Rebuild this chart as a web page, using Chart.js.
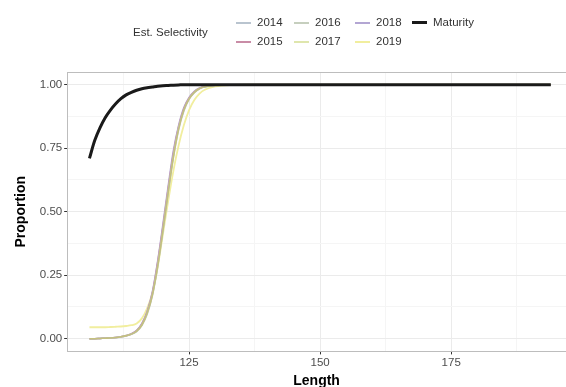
<!DOCTYPE html>
<html>
<head>
<meta charset="utf-8">
<script src="https://cdn.jsdelivr.net/npm/chart.js@4"></script>
<style>
  body { margin: 0; background: #fff; font-family: "Liberation Sans", Arial, sans-serif; }
  #wrap { position: relative; width: 566px; height: 387px; overflow: hidden; }
  #legend { position: absolute; left: 0; top: 0; width: 566px; height: 60px; color: #333; font-size: 11.5px; }
  #legend .title { position: absolute; left: 133px; top: 26px; }
  #legend .item { position: absolute; height: 14px; line-height: 14px; }
  #legend .key { display: inline-block; width: 15px; height: 2px; vertical-align: middle; margin-right: 6px; }
</style>
</head>
<body>
<div id="wrap">
  <canvas id="chart" width="566" height="390"></canvas>
  <div id="legend"><span class="title">Est. Selectivity</span></div>
</div>
<script>
// Eje x: longitud
const lengths = [106, 107, 108, 109, 110, 111, 112, 113, 114, 115, 116, 117, 118, 119, 120,
                 121, 122, 123, 124, 125, 126, 127, 128, 130, 133, 136, 140, 150, 160, 170, 180, 194];

// Selectividad estimada por año
const sel2014 = [0, 0, 0.001, 0.002, 0.003, 0.005, 0.008, 0.012, 0.018, 0.03, 0.055, 0.1, 0.175, 0.29, 0.43,
                 0.58, 0.72, 0.83, 0.9, 0.945, 0.97, 0.985, 0.992, 0.998, 1, 1, 1, 1, 1, 1, 1, 1];
const sel2015 = [0, 0, 0.001, 0.002, 0.003, 0.005, 0.008, 0.012, 0.019, 0.032, 0.058, 0.105, 0.18, 0.3, 0.44,
                 0.59, 0.73, 0.835, 0.905, 0.948, 0.972, 0.986, 0.993, 0.998, 1, 1, 1, 1, 1, 1, 1, 1];
const sel2016 = [0, 0, 0.001, 0.002, 0.003, 0.004, 0.007, 0.011, 0.017, 0.028, 0.052, 0.095, 0.168, 0.28, 0.42,
                 0.57, 0.71, 0.82, 0.895, 0.942, 0.968, 0.984, 0.991, 0.998, 1, 1, 1, 1, 1, 1, 1, 1];
const sel2017 = [0, 0, 0.001, 0.002, 0.003, 0.005, 0.008, 0.012, 0.018, 0.03, 0.054, 0.1, 0.172, 0.285, 0.425,
                 0.575, 0.715, 0.825, 0.9, 0.944, 0.97, 0.985, 0.992, 0.998, 1, 1, 1, 1, 1, 1, 1, 1];
const sel2018 = [0, 0, 0.001, 0.002, 0.003, 0.005, 0.008, 0.013, 0.02, 0.033, 0.06, 0.108, 0.185, 0.305, 0.45,
                 0.6, 0.74, 0.84, 0.91, 0.95, 0.974, 0.987, 0.993, 0.998, 1, 1, 1, 1, 1, 1, 1, 1];
const sel2019 = [0.045, 0.045, 0.045, 0.045, 0.046, 0.047, 0.048, 0.05, 0.053, 0.06, 0.08, 0.12, 0.18, 0.28, 0.41,
                 0.54, 0.66, 0.76, 0.84, 0.9, 0.94, 0.965, 0.98, 0.993, 0.999, 1, 1, 1, 1, 1, 1, 1];

// Madurez
const maturity = [0.71, 0.78, 0.83, 0.87, 0.9, 0.925, 0.945, 0.96, 0.97, 0.978, 0.984, 0.988, 0.991, 0.994, 0.996,
                  0.997, 0.998, 0.999, 1, 1, 1, 1, 1, 1, 1, 1, 1, 1, 1, 1, 1, 1];

// Etiquetas de los ejes
const xMajorTicks = [125, 150, 175];
const xMinorTicks = [112.5, 137.5, 162.5, 187.5];
const yMajorTicks = [0, 0.25, 0.5, 0.75, 1];
const yMinorTicks = [0.125, 0.375, 0.625, 0.875];

const series = [
    { label: 'Maturity', data: maturity, color: '#1a1a1a', width: 3 },
    { label: '2017', data: sel2017, color: '#c4c07e', width: 1.6 },
    { label: '2014', data: sel2014, color: '#b9c4cf', width: 1.5 },
    { label: '2015', data: sel2015, color: '#c98ca6', width: 1.5 },
    { label: '2016', data: sel2016, color: '#c6cfbe', width: 1.5 },
    { label: '2018', data: sel2018, color: '#b3a6d3', width: 1.5 },
    { label: '2019', data: sel2019, color: '#f1ee9e', width: 1.8 }
];

// Colores de la leyenda (algunos más claros que la línea)
const legendColor = { '2017': '#dfe6ad' };

// Leyenda en HTML (dos filas como ggplot)
const legendPos = {
    '2014': [236, 15], '2016': [294, 15], '2018': [355, 15], 'Maturity': [412, 15],
    '2015': [236, 34], '2017': [294, 34], '2019': [355, 34]
};
const legendEl = document.getElementById('legend');
series.forEach(function (s) {
    const item = document.createElement('div');
    item.className = 'item';
    item.style.left = legendPos[s.label][0] + 'px';
    item.style.top = legendPos[s.label][1] + 'px';
    const key = document.createElement('span');
    key.className = 'key';
    key.style.background = legendColor[s.label] || s.color;
    key.style.height = (s.label === 'Maturity' ? 3 : 2) + 'px';
    item.appendChild(key);
    item.appendChild(document.createTextNode(s.label));
    legendEl.appendChild(item);
});

const isMajor = (list, v) => list.some(t => Math.abs(t - v) < 1e-6);

const ctx = document.getElementById('chart').getContext('2d');
new Chart(ctx, {
    type: 'line',
    data: {
        datasets: series.map(function (s, i) {
            return {
                label: s.label,
                data: lengths.map((x, j) => ({ x: x, y: s.data[j] })),
                borderColor: s.color,
                backgroundColor: s.color,
                borderWidth: s.width,
                pointRadius: 0,
                fill: false,
                cubicInterpolationMode: 'monotone',
                order: i
            };
        })
    },
    options: {
        responsive: false,
        animation: false,
        layout: { padding: { top: 72, right: 0, left: 13, bottom: 0 } },
        plugins: { legend: { display: false }, tooltip: { enabled: false } },
        scales: {
            x: {
                type: 'linear',
                min: 101.75,
                max: 196.9,
                afterBuildTicks: function (scale) {
                    scale.ticks = xMinorTicks.concat(xMajorTicks).sort((a, b) => a - b).map(v => ({ value: v }));
                },
                ticks: {
                    autoSkip: false,
                    maxRotation: 0,
                    padding: 2,
                    color: '#4d4d4d',
                    font: { family: 'Liberation Sans', size: 11.5 },
                    callback: v => isMajor(xMajorTicks, v) ? String(v) : ''
                },
                grid: {
                    color: c => isMajor(xMajorTicks, c.tick.value) ? '#ebebeb' : '#f5f5f5',
                    tickColor: c => isMajor(xMajorTicks, c.tick.value) ? '#333' : 'rgba(0,0,0,0)',
                    tickLength: 3,
                    lineWidth: 1
                },
                border: { display: true, color: '#bdbdbd' },
                title: {
                    display: true,
                    text: 'Length',
                    color: '#000',
                    font: { family: 'Liberation Sans', size: 14, weight: 'bold' },
                    padding: { top: 1, bottom: 0 }
                }
            },
            y: {
                type: 'linear',
                min: -0.05,
                max: 1.05,
                afterBuildTicks: function (scale) {
                    scale.ticks = yMinorTicks.concat(yMajorTicks, [1.05]).sort((a, b) => a - b).map(v => ({ value: v }));
                },
                ticks: {
                    autoSkip: false,
                    padding: 2,
                    color: '#4d4d4d',
                    font: { family: 'Liberation Sans', size: 11.5 },
                    callback: v => isMajor(yMajorTicks, v) ? v.toFixed(2) : ''
                },
                grid: {
                    color: c => c.tick.value > 1.04 ? '#bdbdbd' : (isMajor(yMajorTicks, c.tick.value) ? '#ebebeb' : '#f5f5f5'),
                    tickColor: c => isMajor(yMajorTicks, c.tick.value) ? '#333' : 'rgba(0,0,0,0)',
                    tickLength: 3,
                    lineWidth: 1
                },
                border: { display: true, color: '#bdbdbd' },
                title: {
                    display: true,
                    text: 'Proportion',
                    color: '#000',
                    font: { family: 'Liberation Sans', size: 14, weight: 'bold' },
                    padding: { top: 0, bottom: 8 }
                }
            }
        }
    }
});
</script>
</body>
</html>
